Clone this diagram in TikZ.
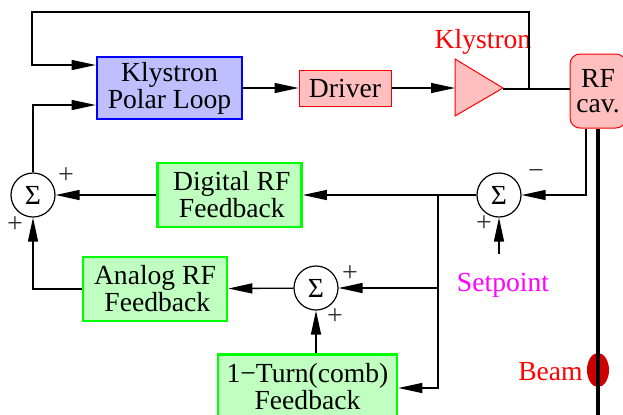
\documentclass[tikz,border=0pt]{standalone}
\usepackage{fontspec}
\setmainfont{Liberation Serif}
\usepackage{tikz}
\usetikzlibrary{arrows.meta}
\tikzset{>={Triangle[length=12pt,width=5pt]}}
\definecolor{kplfill}{RGB}{191,191,255}
\definecolor{fbfill}{RGB}{191,255,191}
\definecolor{rffill}{RGB}{255,191,191}
\definecolor{beamred}{RGB}{204,0,0}
\definecolor{spcol}{RGB}{255,0,255}
\definecolor{fbline}{RGB}{0,255,0}
\tikzset{
    blk/.style={draw, align=center, inner sep=0pt},
    fbbox/.style={blk, draw=fbline, fill=fbfill, line width=1.3pt, minimum width=72pt, minimum height=32pt},
    sumnode/.style={circle, draw, line width=0.6pt, minimum size=22pt, inner sep=0pt},
    sgn/.style={text=black!80, inner sep=0pt, font=\fontsize{14}{14}\selectfont},
}

\begin{document}
\begin{tikzpicture}[x=0.5pt, y=-0.5pt, line width=0.65pt, font=\fontsize{13.8}{12.5}\selectfont]
    \useasboundingbox (0,0) rectangle (623,414);
    \node[blk, draw=blue, fill=kplfill, line width=1.3pt, minimum width=72.5pt, minimum height=31pt](kpl) at (169.5,88){Klystron\\Polar Loop};
    \node[blk, draw=red, fill=rffill, line width=0.5pt, minimum width=46pt, minimum height=18pt](drv) at (345,88){Driver};
    \draw[red, fill=rffill, line width=0.5pt](455,59)--(503,88)--(455,116)--cycle;
    \coordinate(klyin) at (455,88);
    \coordinate(klyout) at (503,89);
    \node[red](klylab) at (483,42){Klystron};
    \node[blk, draw=red, fill=rffill, line width=0.5pt, rounded corners=5pt, minimum width=28pt, minimum height=37pt](rf) at (598,91){RF\\cav.};
    \node[sumnode](sum1) at (33,195){Σ};
    \node[sumnode](sum2) at (499,195){Σ};
    \node[sumnode](sum3) at (316,288){Σ};
    \node[fbbox](dig) at (229.5,195){\,Digital RF\\\,Feedback};
    \node[fbbox](ana) at (155,289){Analog RF\\\,Feedback};
    \node[fbbox, minimum width=89.5pt](turn) at (307.5,386.5){1−Turn(comb)\\Feedback};
    \node[spcol](sp) at (503,285){Setpoint};
    % beam through the cavity
    \fill[beamred](598,370)ellipse(5.5pt and 8.5pt);
    \draw[line width=2pt](rf.south) -- (598,420);
    \node[red, anchor=east](beam) at (590,372){Beam};
    % connectors
    \coordinate(tap) at (529,89);
    \coordinate(br) at (438,195);
    \draw(klyout) -- (klyout -| rf.west);
    \draw[->](tap) |- (32,12) |- ([yshift=11.5pt]kpl.west);
    \draw[->](sum1.north) |- ([yshift=-8.5pt]kpl.west);
    \draw[->](kpl) -- (drv);
    \draw[->](drv) -- (klyin);
    \draw[->]([xshift=-6pt]rf.south) |- (sum2.east);
    \draw[->](sum2) -- (dig);
    \draw[->](dig) -- (sum1);
    \draw[->](br) |- ([yshift=-0.75pt]turn.east);
    \draw[->](br |- sum3) -- (sum3);
    \draw[->](sum3) -- (ana);
    \draw[->](ana.west) -| (sum1.south);
    \draw[->](turn.north -| sum3) -- (sum3.south);
    \draw[->]([yshift=6pt]sp.north -| sum2) -- (sum2.south);
    % signs
    \node[sgn] at (66,176){+};
    \node[sgn] at (15,225){+};
    \node[sgn] at (536,174){−};
    \node[sgn] at (484,224){+};
    \node[sgn] at (350,274){+};
    \node[sgn] at (335,317){+};
\end{tikzpicture}
\end{document}
